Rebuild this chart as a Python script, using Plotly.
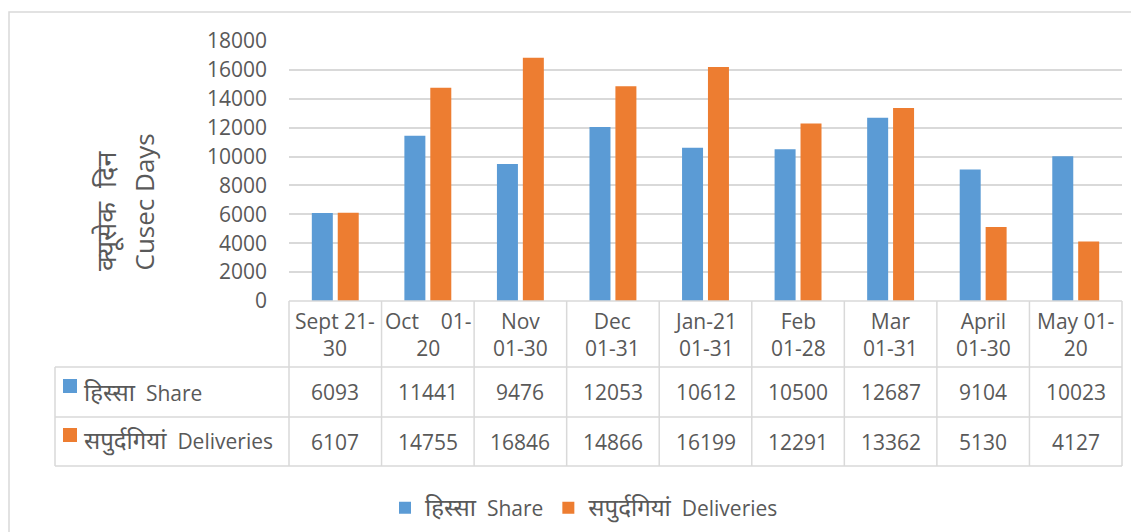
import plotly.graph_objects as go

categories = ["Sept 21-<br>30", "Oct\u00a0\u00a0\u00a0 01-<br>20", "Nov<br>01-30", "Dec<br>01-31",
              "Jan-21<br>01-31", "Feb<br>01-28", "Mar<br>01-31", "April<br>01-30", "May 01-<br>20"]
share = [6093, 11441, 9476, 12053, 10612, 10500, 12687, 9104, 10023]
deliveries = [6107, 14755, 16846, 14866, 16199, 12291, 13362, 5130, 4127]
series_hi = ["हिस्सा", "सपुर्दगियां"]
series_en = ["Share", "Deliveries"]
y_ticks = [0, 2000, 4000, 6000, 8000, 10000, 12000, 14000, 16000, 18000]
axis_title_hi = "क्यूसेक\u00a0\u00a0दिन"
axis_title_en = "Cusec Days"

BLUE = "#5B9BD5"
ORANGE = "#ED7D31"
TXT = "#595959"
GRID = "#d9d9d9"
FONT = "Open Sans, Noto Sans, sans-serif"


def label(hi, en, size=24):
    return f'<span style="font-size:{size}px">{hi}</span>\u00a0 {en}'


series_names = [label(h, e) for h, e in zip(series_hi, series_en)]

W, H = 1139, 532
OFF = 8  # page body margin offset
PL, PR, PT, PB = 289, 1122, 41, 301  # plot area in screen pixels
L, T = PL - OFF, PT - OFF
R = W - (PR - OFF)
B = H - (PB - OFF)
PW, PH = PR - PL, PB - PT


def px_x(px):
    return (px - PL) / PW


def px_y(py):
    return (PB - py) / PH


idx = list(range(len(categories)))
n = len(categories)

fig = go.Figure()
fig.add_trace(go.Bar(x=idx, y=share, name=series_names[0], marker=dict(color=BLUE, line=dict(width=0))))
fig.add_trace(go.Bar(x=idx, y=deliveries, name=series_names[1], marker=dict(color=ORANGE, line=dict(width=0))))

shapes = []
line_style = dict(color=GRID, width=1.5)
# outer chart border
shapes.append(dict(type="rect", xref="paper", yref="paper", x0=px_x(9), x1=px_x(1170),
                   y0=px_y(580), y1=px_y(12), line=dict(color=GRID, width=1.5), layer="below"))
# table horizontal lines
shapes.append(dict(type="line", xref="paper", yref="paper", x0=0, x1=1, y0=px_y(301), y1=px_y(301), line=line_style))
for py in (367, 417, 466):
    shapes.append(dict(type="line", xref="paper", yref="paper", x0=px_x(55), x1=1,
                       y0=px_y(py), y1=px_y(py), line=line_style))
# verticals
shapes.append(dict(type="line", xref="paper", yref="paper", x0=px_x(55), x1=px_x(55),
                   y0=px_y(367), y1=px_y(466), line=line_style))
for k in range(n + 1):
    shapes.append(dict(type="line", xref="paper", yref="paper", x0=k / n, x1=k / n,
                       y0=px_y(301), y1=px_y(466), line=line_style))
# legend keys in table
for color, py in ((BLUE, 379), (ORANGE, 428)):
    shapes.append(dict(type="rect", xref="paper", yref="paper", x0=px_x(63), x1=px_x(77),
                       y0=px_y(py + 14), y1=px_y(py), fillcolor=color, line=dict(width=0)))

annotations = []
for i, c in enumerate(categories):
    annotations.append(dict(x=i, y=px_y(334.5), xref="x", yref="paper", text=c, showarrow=False,
                            font=dict(family=FONT, size=21, color=TXT), xanchor="center", yanchor="middle"))
    annotations.append(dict(x=i, y=px_y(392), xref="x", yref="paper", text=str(share[i]), showarrow=False,
                            font=dict(family=FONT, size=21, color=TXT), xanchor="center", yanchor="middle"))
    annotations.append(dict(x=i, y=px_y(442), xref="x", yref="paper", text=str(deliveries[i]), showarrow=False,
                            font=dict(family=FONT, size=21, color=TXT), xanchor="center", yanchor="middle"))
for name, py in ((series_names[0], 391), (series_names[1], 440)):
    annotations.append(dict(x=px_x(82), y=px_y(py), xref="paper", yref="paper", text=name, showarrow=False,
                            font=dict(family=FONT, size=21, color=TXT), xanchor="left", yanchor="middle"))
# axis title (two rotated lines)
annotations.append(dict(x=px_x(105), y=px_y(273), xref="paper", yref="paper", text=axis_title_hi,
                        showarrow=False, textangle=-90, font=dict(family=FONT, size=27, color=TXT),
                        xanchor="center", yanchor="bottom"))
annotations.append(dict(x=px_x(143), y=px_y(273), xref="paper", yref="paper", text=axis_title_en,
                        showarrow=False, textangle=-90, font=dict(family=FONT, size=26, color=TXT),
                        xanchor="center", yanchor="bottom"))

fig.update_layout(
    width=W, height=H,
    margin=dict(l=L, r=R, t=T, b=B, autoexpand=False),
    paper_bgcolor="white", plot_bgcolor="white",
    barmode="group", bargap=0.44, bargroupgap=0.19,
    font=dict(family=FONT, size=21, color=TXT),
    xaxis=dict(range=[-0.5, n - 0.5], showticklabels=False, showgrid=False, zeroline=False,
               showline=False, ticks=""),
    yaxis=dict(range=[0, 18000], tickvals=y_ticks, tickformat="d", showgrid=True, gridcolor=GRID,
               gridwidth=1.5, zeroline=False, showline=False, ticks="", ticklabelstandoff=21,
               tickfont=dict(family=FONT, size=21, color=TXT)),
    showlegend=True,
    legend=dict(orientation="h", x=px_x(584), y=px_y(508), xanchor="center", yanchor="middle",
                font=dict(family=FONT, size=21, color=TXT), bgcolor="rgba(0,0,0,0)",
                itemclick=False, tracegroupgap=0),
    shapes=shapes,
    annotations=annotations,
)

fig.write_html("out.html")
